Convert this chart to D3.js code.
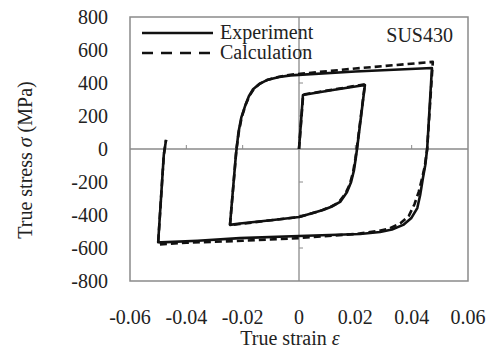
<!DOCTYPE html>
<html><head><meta charset="utf-8">
<script src="https://cdn.jsdelivr.net/npm/d3@7"></script>
<style>body{margin:0;background:#fff}svg{display:block}text{font-family:"Liberation Serif","Times New Roman",serif;fill:#222}</style>
</head><body>
<script>
const xTicks = [-0.06,-0.04,-0.02,0,0.02,0.04,0.06];
const yTicks = [800,600,400,200,0,-200,-400,-600,-800];
const xTickLabels = ["-0.06","-0.04","-0.02","0","0.02","0.04","0.06"];
// Experiment (solid)
const expStrain = [0,0.0014,0.005,0.012,0.0234,
  0.0206,0.0202,0.0195,0.0185,0.017,0.0146,0.0115,0.0085,0.004,0,-0.0092,-0.021,-0.0245,
  -0.0224,-0.0215,-0.0205,-0.019,-0.0178,-0.0163,-0.014,-0.0114,-0.007,-0.003,0.02,0.0472,
  0.0455,0.0448,0.044,0.043,0.042,0.0398,0.037,0.033,0.0288,0.0217,0,-0.021,-0.036,-0.049,-0.0500,
  -0.048,-0.0472];
const expStress = [0,327,338,358,388,
  0,-50,-130,-200,-262,-321,-350,-370,-392,-412,-430,-452,-460,
  -36,100,190,267,320,362,395,418,436,446,470,491,
  0,-100,-176,-280,-358,-420,-460,-488,-503,-515,-527,-540,-556,-566,-565,
  -36,55];
// Calculation (dashed)
const calStrain = [0,0.0015,0.005,0.012,0.0234,
  0.0205,0.0200,0.0192,0.0180,0.0165,0.014,0.011,0.008,0.004,0,-0.01,-0.021,-0.0245,
  -0.0222,-0.0213,-0.0203,-0.0188,-0.0175,-0.016,-0.0137,-0.011,-0.007,-0.003,0.02,0.0475,
  0.0455,0.0447,0.0438,0.0425,0.041,0.039,0.036,0.032,0.028,0.020,0,-0.02,-0.04,-0.0495,-0.0500,
  -0.048,-0.0472];
const calStress = [0,330,340,360,392,
  0,-60,-140,-215,-270,-325,-352,-372,-393,-412,-432,-455,-462,
  0,110,195,275,325,365,398,420,438,450,488,528,
  0,-100,-170,-260,-335,-405,-450,-482,-497,-515,-540,-556,-568,-578,-570,
  -36,55];

const W=492,H=349;
const svg=d3.select("body").append("svg").attr("width",W).attr("height",H);
const x=d3.scaleLinear().domain([-0.06,0.06]).range([130,468]);
const y=d3.scaleLinear().domain([-800,800]).range([281,17]);
const gray="#8a8a8a";
svg.append("rect").attr("x",130).attr("y",17).attr("width",338).attr("height",264).attr("fill","none").attr("stroke",gray).attr("stroke-width",1.5);
svg.append("line").attr("x1",x(-0.06)).attr("x2",x(0.06)).attr("y1",y(0)).attr("y2",y(0)).attr("stroke",gray).attr("stroke-width",1.3);
svg.append("line").attr("x1",x(0)).attr("x2",x(0)).attr("y1",y(800)).attr("y2",y(-800)).attr("stroke",gray).attr("stroke-width",1.3);
xTicks.filter(t=>t!==0&&Math.abs(t)<0.06).forEach(t=>{
  svg.append("line").attr("x1",x(t)).attr("x2",x(t)).attr("y1",y(0)).attr("y2",y(0)-4).attr("stroke",gray).attr("stroke-width",1);
});
yTicks.filter(t=>t!==0&&Math.abs(t)<800).forEach(t=>{
  svg.append("line").attr("x1",x(0)).attr("x2",x(0)+4).attr("y1",y(t)).attr("y2",y(t)).attr("stroke",gray).attr("stroke-width",1);
});
yTicks.forEach(t=>{
  svg.append("text").attr("x",108).attr("y",y(t)).attr("dy","0.35em").attr("text-anchor","end").attr("font-size",20).text(t);
});
xTicks.forEach((t,i)=>{
  svg.append("text").attr("x",x(t)).attr("y",324).attr("text-anchor","middle").attr("font-size",20).text(xTickLabels[i]);
});
const xt=svg.append("text").attr("x",290).attr("y",345).attr("text-anchor","middle").attr("font-size",20);
xt.append("tspan").text("True strain ");
xt.append("tspan").attr("font-style","italic").text("ε");
const yt=svg.append("text").attr("transform","translate(32,160) rotate(-90)").attr("text-anchor","middle").attr("font-size",20);
yt.append("tspan").text("True stress ");
yt.append("tspan").attr("font-style","italic").text("σ");
yt.append("tspan").text(" (MPa)");
const line=d3.line().x(d=>x(d[0])).y(d=>y(d[1]));
const calData=calStrain.map((s,i)=>[s,calStress[i]]);
const expData=expStrain.map((s,i)=>[s,expStress[i]]);
svg.append("path").attr("d",line(calData)).attr("fill","none").attr("stroke","#111").attr("stroke-width",2.6).attr("stroke-dasharray","7,4").attr("stroke-linejoin","round");
svg.append("path").attr("d",line(expData)).attr("fill","none").attr("stroke","#111").attr("stroke-width",2.6).attr("stroke-linejoin","round");
svg.append("line").attr("x1",142).attr("x2",213).attr("y1",33).attr("y2",33).attr("stroke","#111").attr("stroke-width",2.6);
svg.append("line").attr("x1",142).attr("x2",213).attr("y1",53).attr("y2",53).attr("stroke","#111").attr("stroke-width",2.6).attr("stroke-dasharray","11,8");
svg.append("text").attr("x",220).attr("y",39).attr("font-size",20).text("Experiment");
svg.append("text").attr("x",220).attr("y",59).attr("font-size",20).text("Calculation");
svg.append("text").attr("x",453).attr("y",42).attr("text-anchor","end").attr("font-size",20).text("SUS430");
</script>
</body></html>
